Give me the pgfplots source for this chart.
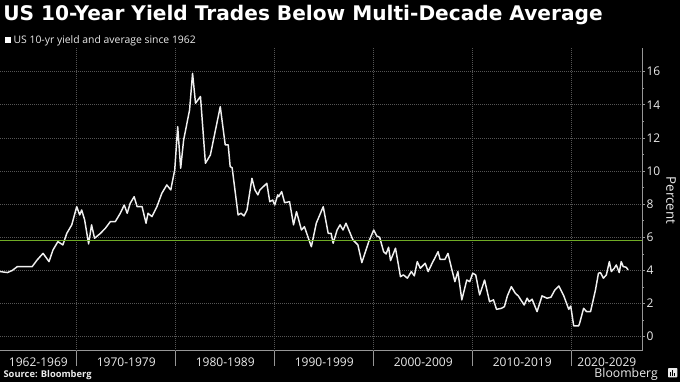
\documentclass[border=0pt]{standalone}
\usepackage{fontspec}
\setmainfont{Open Sans}
\newfontfamily\titlefont{DejaVu Sans}
\usepackage{pgfplots}
\pgfplotsset{compat=1.18}
\definecolor{avggreen}{RGB}{112,172,38}
\definecolor{gridc}{RGB}{85,85,85}
\definecolor{axc}{RGB}{150,150,150}
\definecolor{txt}{RGB}{235,235,235}
\begin{document}
\begin{tikzpicture}
\path[use as bounding box, fill=black] (0,0) rectangle (510pt,286.5pt);
\node[anchor=base west, inner sep=0pt, text=white, font=\titlefont\bfseries\fontsize{15.1}{17}\selectfont] at (2.25pt,271pt) {US 10-Year Yield Trades Below Multi-Decade Average};
\fill[white] (3.75pt,254pt) rectangle (8.5pt,258.75pt);
\node[anchor=base west, inner sep=0pt, text=txt, font=\fontsize{7.8}{9}\selectfont] at (10pt,254pt) {US 10-yr yield and average since 1962};
\node[anchor=base west, inner sep=0pt, text=txt, font=\bfseries\fontsize{7}{9}\selectfont] at (2.5pt,3.5pt) {Source: Bloomberg};
\node[anchor=base east, inner sep=0pt, text=txt, font=\fontsize{9.2}{10}\selectfont] at (493.5pt,3.5pt) {Bloomberg};
\fill[txt, rounded corners=0.6pt] (501pt,3.5pt) rectangle (508pt,10.5pt);
\fill[black] (502.5pt,4.8pt) rectangle (503.4pt,7.8pt);
\fill[black] (504.1pt,4.8pt) rectangle (505pt,9.2pt);
\fill[black] (505.7pt,4.8pt) rectangle (506.6pt,6.8pt);
\node[rotate=-90, inner sep=0pt, text=txt, font=\fontsize{10}{12}\selectfont] at (503.25pt,136pt) {Percent};
\begin{axis}[
  at={(0pt,23.475pt)}, anchor=south west, scale only axis,
  width=481.5pt, height=227pt,
  xmin=1962.25, xmax=2027.1, ymin=-0.85, ymax=17.43,
  axis x line*=bottom, axis y line*=right,
  axis line style={axc, line width=0.6pt, -},
  clip=false,
  tick align=outside,
  major tick length=2.25pt, minor tick length=1.5pt,
  /pgf/number format/assume math mode=true,
  ytick={0,2,...,16}, minor y tick num=1,
  ytick style={axc, line width=0.5pt},
  yticklabel style={text=txt, font=\fontsize{9}{10}\selectfont, anchor=west, inner sep=0pt, xshift=1pt},
  ymajorgrids,
  grid style={gridc, line width=0.5pt, dash pattern=on 0.6pt off 0.9pt},
  xtick={1966.125,1975,1985,1995,2005,2015,2023.55},
  xticklabels={1962-1969,1970-1979,1980-1989,1990-1999,2000-2009,2010-2019,2020-2029},
  xtick style={draw=none},
  xticklabel style={text=txt, font=\fontsize{9}{10}\selectfont, anchor=north, inner sep=0pt, yshift=-3.2pt},
  extra x ticks={1970,1980,1990,2000,2010,2020},
  extra x tick labels={},
  extra x tick style={grid=major, xtick style={draw=none}},
]
\addplot[color=white!94!black, line width=1.1pt, line join=round, mark=none] table {
1962.25 3.93
1963.0 3.87
1963.5 4.0
1964.0 4.23
1965.0 4.23
1965.5 4.23
1966.0 4.63
1966.6 5.03
1967.2 4.53
1967.6 5.23
1968.1 5.74
1968.6 5.54
1969.0 6.24
1969.5 6.75
1970.0 7.85
1970.3 7.35
1970.5 7.65
1970.8 7.05
1971.2 5.6
1971.5 6.75
1971.8 5.94
1972.4 6.24
1972.9 6.55
1973.4 6.95
1973.9 6.95
1974.4 7.45
1974.8 7.95
1975.1 7.45
1975.4 8.05
1975.8 8.45
1976.1 7.85
1976.6 7.85
1977.0 6.85
1977.2 7.45
1977.6 7.25
1978.1 7.85
1978.6 8.66
1979.1 9.16
1979.5 8.86
1979.9 10.07
1980.2 12.68
1980.5 10.17
1980.8 11.88
1981.4 13.69
1981.7 15.9
1982.0 14.1
1982.5 14.5
1983.0 10.47
1983.5 10.97
1984.5 13.89
1985.0 11.58
1985.3 11.58
1985.5 10.27
1985.7 10.2
1986.3 7.35
1986.6 7.45
1986.9 7.29
1987.2 7.65
1987.7 9.56
1988.0 8.86
1988.3 8.56
1988.5 8.86
1989.2 9.26
1989.5 8.15
1989.8 8.25
1990.0 7.95
1990.3 8.56
1990.4 8.45
1990.7 8.76
1991.0 8.09
1991.5 8.15
1991.9 6.75
1992.2 7.55
1992.7 6.44
1993.0 6.64
1993.7 5.43
1994.2 6.85
1994.9 7.85
1995.4 6.24
1995.7 6.24
1995.9 5.64
1996.3 6.44
1996.6 6.75
1996.9 6.44
1997.2 6.85
1997.9 5.84
1998.4 5.54
1998.8 4.47
1999.5 5.74
2000.0 6.44
2000.3 6.08
2000.6 6.0
2001.0 5.13
2001.25 4.99
2001.5 5.4
2001.7 4.59
2002.2 5.34
2002.7 3.62
2003.0 3.73
2003.4 3.53
2003.8 3.93
2004.1 3.67
2004.4 4.53
2004.7 4.13
2005.2 4.43
2005.5 3.93
2005.9 4.43
2006.5 5.13
2006.7 4.67
2007.2 4.67
2007.5 5.03
2007.9 4.03
2008.2 3.32
2008.5 3.93
2008.9 2.22
2009.4 3.42
2009.7 3.32
2010.0 3.83
2010.3 3.73
2010.7 2.52
2011.2 3.42
2011.7 2.11
2012.1 2.22
2012.4 1.65
2012.9 1.71
2013.2 1.81
2013.5 2.46
2013.9 3.02
2014.3 2.62
2014.6 2.46
2015.2 1.91
2015.5 2.32
2015.7 2.11
2016.0 2.26
2016.5 1.51
2017.0 2.46
2017.5 2.32
2017.9 2.38
2018.3 2.82
2018.7 3.06
2019.2 2.46
2019.7 1.65
2019.9 1.85
2020.2 0.65
2020.7 0.65
2020.8 0.81
2021.2 1.71
2021.5 1.51
2021.9 1.51
2022.4 2.82
2022.7 3.83
2022.9 3.87
2023.2 3.53
2023.5 3.73
2023.8 4.53
2024.0 3.93
2024.3 4.13
2024.5 4.33
2024.8 3.87
2025.0 4.53
2025.2 4.23
2025.5 4.19
2025.7 4.03
};
\addplot[color=avggreen, line width=1.1pt, mark=none] coordinates {(1962.25,5.82) (2027.1,5.82)};
\draw[axc, line width=0.6pt] (axis cs:1970,-0.85) -- ++(0pt,-11.25pt);
\draw[axc, line width=0.6pt] (axis cs:1980,-0.85) -- ++(0pt,-11.25pt);
\draw[axc, line width=0.6pt] (axis cs:1990,-0.85) -- ++(0pt,-11.25pt);
\draw[axc, line width=0.6pt] (axis cs:2000,-0.85) -- ++(0pt,-11.25pt);
\draw[axc, line width=0.6pt] (axis cs:2010,-0.85) -- ++(0pt,-11.25pt);
\draw[axc, line width=0.6pt] (axis cs:2020,-0.85) -- ++(0pt,-11.25pt);
\end{axis}
\end{tikzpicture}
\end{document}
